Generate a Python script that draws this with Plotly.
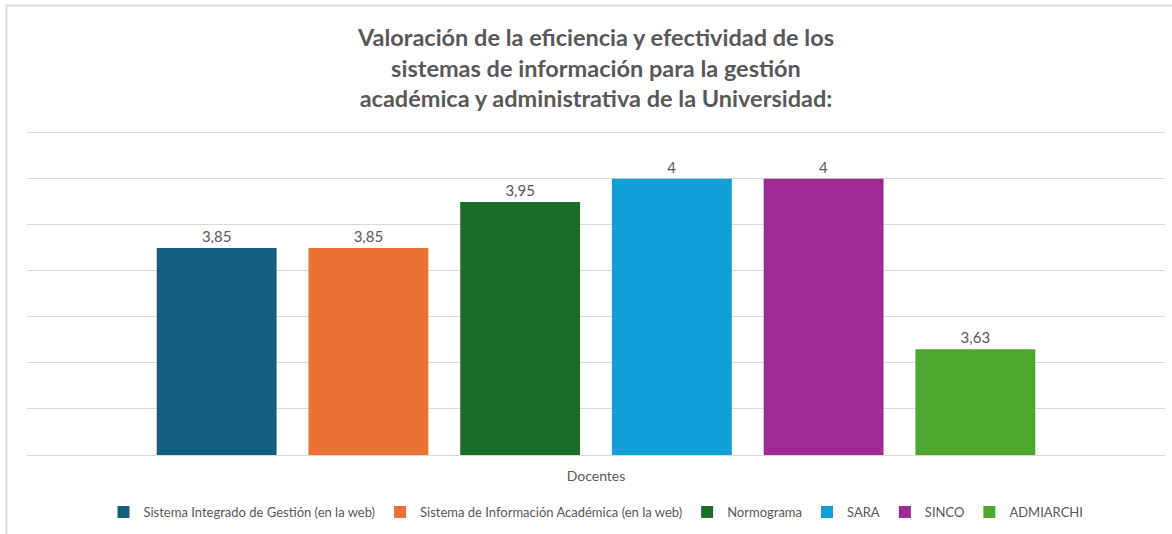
import plotly.graph_objects as go

category = ["Docentes"]
series_names = [
    "Sistema Integrado de Gestión (en la web)",
    "Sistema de Información Académica (en la web)",
    "Normograma",
    "SARA",
    "SINCO",
    "ADMIARCHI",
]
series_values = [3.85, 3.85, 3.95, 4.00, 4.00, 3.63]
series_labels = ["3,85", "3,85", "3,95", "4", "4", "3,63"]
series_colors = ["#165E80", "#EB7134", "#1B6E27", "#119FD8", "#9E2A92", "#4EA72E"]

FONT = "Lato, Carlito, Calibri, sans-serif"
GRAY = "#595959"

fig = go.Figure()
for name, val, lab, col in zip(series_names, series_values, series_labels, series_colors):
    fig.add_trace(go.Bar(
        x=category, y=[val], name=name,
        marker=dict(color=col, line=dict(width=0)),
        text=[lab], textposition="outside", cliponaxis=False,
        textfont=dict(family=FONT, size=15, color=GRAY),
        hoverinfo="name+y",
    ))

W, H = 1172, 534
L, R, T, B = 27, 7, 131, 79
pw, ph = W - L - R, H - T - B

fig.update_layout(
    width=W, height=H,
    margin=dict(l=L, r=R, t=T, b=B),
    paper_bgcolor="white", plot_bgcolor="white",
    barmode="group", bargap=0.2, bargroupgap=0.21,
    font=dict(family=FONT, color=GRAY),
    title=dict(
        text="Valoración de la eficiencia y efectividad de los<br>sistemas de información para la gestión<br>académica y administrativa de la Universidad:",
        font=dict(family=FONT, size=23.5, color=GRAY, weight="bold"),
        x=(L + pw / 2) / W, xanchor="center",
        y=1 - 46 / H, yanchor="middle", yref="container",
    ),
    xaxis=dict(
        showgrid=False, showline=True, linecolor="#D9D9D9", linewidth=1,
        tickfont=dict(family=FONT, size=14, color=GRAY),
        ticklabelstandoff=8, fixedrange=True,
    ),
    yaxis=dict(
        range=[3.4, 4.104], dtick=0.1, tick0=3.4,
        showgrid=True, gridcolor="#D9D9D9", gridwidth=1,
        showticklabels=False, zeroline=False, showline=False, fixedrange=True,
    ),
    legend=dict(
        orientation="h", x=0.5, xanchor="center",
        yref="container", y=(H - 512) / H, yanchor="middle",
        font=dict(family=FONT, size=13, color=GRAY),
        itemwidth=30, traceorder="normal",
    ),
    showlegend=True,
    shapes=[dict(
        type="rect", xref="paper", yref="paper",
        x0=(6.5 - L) / pw, x1=(W + 10 - L) / pw,
        y0=-(H + 10 - (H - B)) / ph, y1=((H - B) - 5.5) / ph,
        line=dict(color="#D9D9D9", width=2), fillcolor="rgba(0,0,0,0)", layer="below",
    )],
)

fig.write_html("out.html", config={"displayModeBar": False},
               post_script="document.body.style.margin='0';")
